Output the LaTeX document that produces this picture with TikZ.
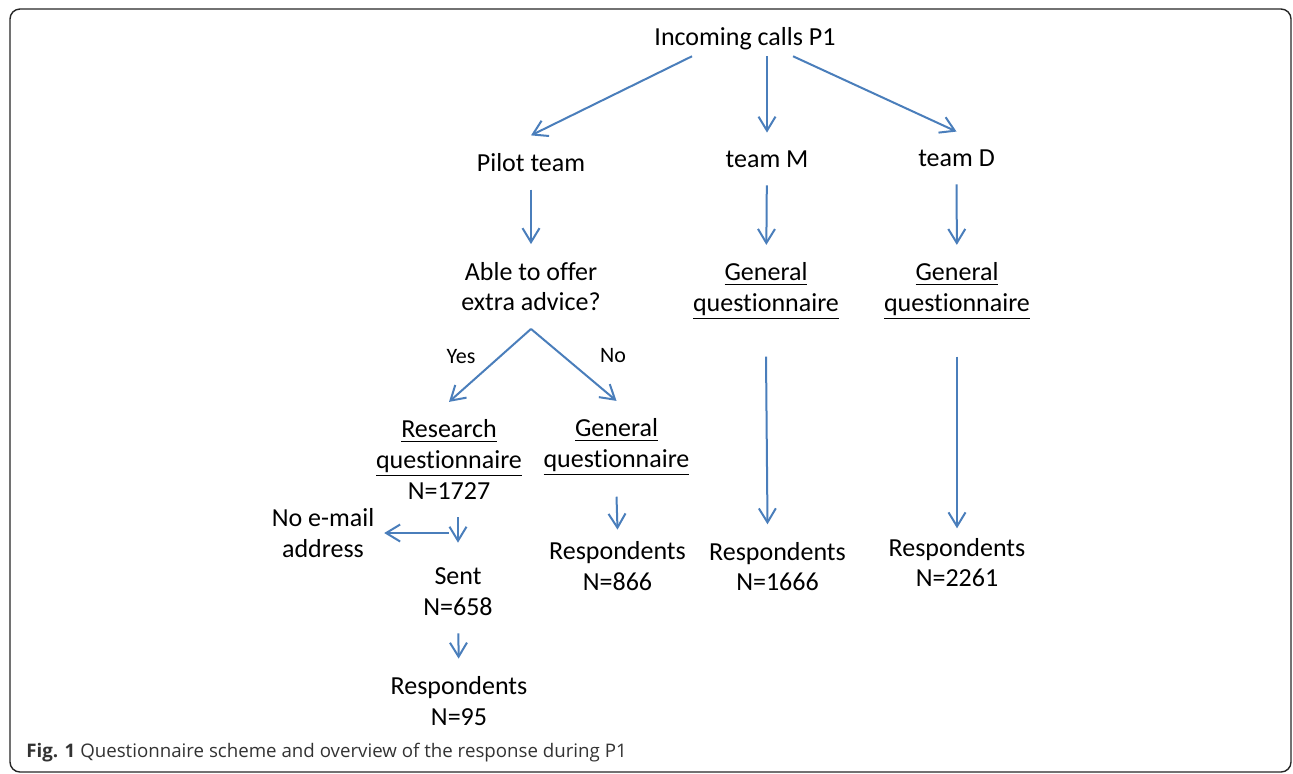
\documentclass[tikz,border=0pt]{standalone}
\usepackage{fontspec}
\setmainfont{Carlito}[Ligatures=NoCommon]
\newfontfamily\captionfont{Open Sans}[Ligatures=NoCommon]
\usepackage{xcolor}
\definecolor{flowblue}{HTML}{4A7EBB}
\definecolor{captiongrey}{HTML}{333333}
\usepackage{tikz}
\usetikzlibrary{arrows.meta, positioning}

\begin{document}
\begin{tikzpicture}[
    x=0.5pt, y=-0.5pt,
    stage/.style={inner sep=0pt, outer sep=9pt, align=center, font=\fontsize{13}{15.3}\selectfont},
    answer/.style={inner sep=0pt, font=\fontsize{11}{13}\selectfont},
    arrow/.style={-{Straight Barb[length=7pt, width=8.5pt]}, line width=1pt, color=flowblue},
]
    \useasboundingbox (0,0) rectangle (1293,773);
    \draw[line width=0.7pt, color=black!85, rounded corners=5pt] (10,9) rectangle (1291,772);

    % top level
    \node[stage] (calls) at (745,39) {Incoming calls P1};
    \node[stage] (pilot) at (531,162.5) {Pilot team};
    \node[stage] (teamM) at (767,159) {team M};
    \node[stage] (teamD) at (956.5,158) {team D};

    % questionnaires
    \node[stage] (able) at (531,286.5) {Able to offer\\extra advice?};
    \node[stage] (genM) at (766,291.3) {\underline{General}\\\underline{questionnaire}};
    \node[stage] (genD) at (957,291.3) {\underline{General}\\\underline{questionnaire}};
    \node[answer] (yes) at (461,357) {Yes};
    \node[answer] (no) at (613,356) {No};
    \node[stage] (research) at (449,459.5) {\underline{Research}\\\underline{questionnaire}\\N=1727};
    \node[stage] (genNo) at (616.5,447.3) {\underline{General}\\\underline{questionnaire}};

    % response
    \node[stage] (noemail) at (323,533) {No e-mail\\address};
    \node[stage] (sent) at (458,591.5) {Sent\\N=658};
    \node[stage] (resp95) at (459,701) {Respondents\\N=95};
    \node[stage] (resp866) at (617.5,566) {Respondents\\N=866};
    \node[stage] (resp1666) at (777.5,566.7) {Respondents\\N=1666};
    \node[stage] (resp2261) at (957,562.7) {Respondents\\N=2261};

    \node[anchor=base west, inner sep=0pt, text=captiongrey, font=\captionfont\fontsize{9.35}{11}\selectfont] (caption) at (26,757.3) {\textbf{Fig. 1} Questionnaire scheme and overview of the response during P1};

    \draw[arrow] ([xshift=-26.5pt, yshift=6pt]calls.south) -- (pilot.north);
    \draw[arrow] ([xshift=11pt, yshift=6pt]calls.south) -- (teamM.north);
    \draw[arrow] ([xshift=24pt, yshift=6pt]calls.south) -- (teamD.north);
    \draw[arrow] (pilot.south) -- (able.north);
    \draw[arrow] (teamM) -- (genM);
    \draw[arrow] (teamD) -- (genD);
    \draw[arrow] (able.south) -- (research.north);
    \draw[arrow] (able.south) -- (genNo.north);
    \draw[arrow] (research.south -| sent.north) -- ([yshift=3.5pt]sent.north);
    \draw[arrow] (research.south |- noemail.east) -- ([xshift=-4pt]noemail.east);
    \draw[arrow] (sent) -- (resp95);
    \draw[arrow] ([yshift=-1.5pt]genNo.south) -- ([yshift=-3pt]resp866.north);
    \draw[arrow] ([yshift=-9.5pt]genM.south) -- ([xshift=-5pt]resp1666.north);
    \draw[arrow] ([yshift=-9.5pt]genD.south) -- ([yshift=-4pt]resp2261.north);
\end{tikzpicture}
\end{document}
